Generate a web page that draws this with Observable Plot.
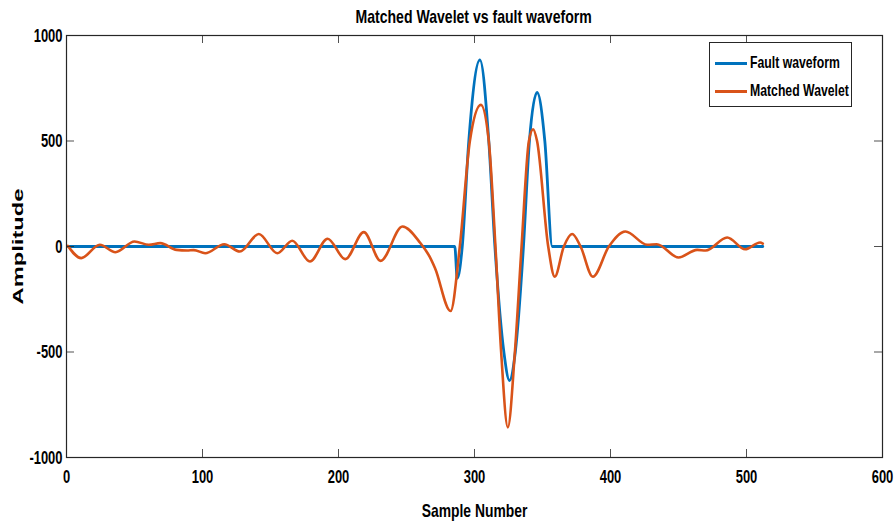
<!DOCTYPE html>
<html>
<head>
<meta charset="utf-8">
<script src="https://cdn.jsdelivr.net/npm/d3@7"></script>
<script src="https://cdn.jsdelivr.net/npm/@observablehq/plot@0.6"></script>
<style>
  body { margin: 0; background: #fff; }
  #wrap { position: relative; width: 896px; height: 524px; background: #fff; overflow: hidden; }
  #title { position: absolute; left: 66px; width: 816px; top: 6px; text-align: center; z-index: 2;
    font: bold 19px "Liberation Sans", Arial, sans-serif; color: #000; line-height: 22px; }
  #title span { display: inline-block; transform: scaleX(0.74); transform-origin: center; white-space: nowrap; }
  #chart { position: absolute; left: 0; top: 18px; z-index: 1; }
  #legend { position: absolute; left: 709px; top: 42px; width: 143px; height: 65px; box-sizing: border-box; z-index: 3;
    border: 1px solid #262626; background: #fff;
    font: bold 17px "Liberation Sans", Arial, sans-serif; color: #000; }
  .item { position: absolute; left: 5px; height: 20px; display: flex; align-items: center; white-space: nowrap; }
  .sw { width: 32px; height: 3px; margin-right: 3px; flex: none; }
  .tx { display: inline-block; transform: scaleX(0.72); transform-origin: left center; }
</style>
</head>
<body>
<div id="wrap">
  <div id="title"><span>Matched Wavelet vs fault waveform</span></div>
  <div id="chart"></div>
  <div id="legend"></div>
</div>
<script>
// ---- data ----
const xTicks = [0, 100, 200, 300, 400, 500, 600];
const yTicks = [-1000, -500, 0, 500, 1000];
const seriesNames = ["Fault waveform", "Matched Wavelet"];
const seriesColors = ["#0072BD", "#D95319"];

const faultSample = [1, 285.5, 287.3, 291, 295.8, 304, 310.5, 315, 321.6, 325.7, 330, 336, 340.4, 346, 351.7, 357.2, 512];
const faultAmp    = [0, 0, -151, 0, 500, 884, 500, 0, -500, -635, -500, 0, 500, 730, 500, 0, 0];

const waveletSample = [1, 10.8, 24.5, 36, 50, 60.5, 69, 81, 88.7, 93.6, 102, 116, 127.5, 141.4, 155, 166, 179, 192, 205, 218.6, 231, 247, 260, 267, 271, 282.4, 289.2, 296.6, 304.7, 310.5, 315.4, 319.6, 324.5, 329.7, 334.6, 340, 343.1, 346, 354.2, 359, 365.7, 371.8, 378, 387, 398.8, 411, 427, 434, 450, 463.7, 470, 485.8, 499, 510, 512];
const waveletAmp    = [3, -55, 8, -27, 24, 8, 16, -16, -19, -17, -32, 11, -24, 59, -32, 27, -71, 37, -60, 68, -68, 95, 18, -48, -103, -306, 0, 500, 671, 500, 0, -500, -857, -500, 0, 500, 556, 500, 0, -143, 0, 59, 0, -143, 0, 71, 8, 11, -52, -16, -19, 43, -13, 19, 14];

const fault = faultSample.map((x, i) => ({x, y: faultAmp[i]}));
const wavelet = waveletSample.map((x, i) => ({x, y: waveletAmp[i]}));

// ---- layout ----
const W = 896, H = 506, mt = 17, mb = 67, ml = 66, mr = 14;
const innerH = H - mt - mb, innerW = W - ml - mr, tick = 8;
const axisColor = "#262626";
const font = '"Liberation Sans", Arial, sans-serif';

const chart = Plot.plot({
  width: W, height: H,
  marginTop: mt, marginBottom: mb, marginLeft: ml, marginRight: mr,
  style: {fontFamily: font, fontWeight: "bold", fontSize: "19px", color: "#000", background: "transparent", overflow: "visible"},
  x: {domain: [0, 600]},
  y: {domain: [-1000, 1000]},
  marks: [
    Plot.axisX(xTicks, {tickSize: 0, tickPadding: 12, tickFormat: d => String(d),
      label: "Sample Number", labelAnchor: "center", labelOffset: 59, labelArrow: "none"}),
    Plot.axisY(yTicks, {tickSize: 0, tickPadding: 4, tickFormat: d => String(d),
      label: "Amplitude", labelAnchor: "center", labelOffset: 53, labelArrow: "none"}),
    Plot.line(fault, {x: "x", y: "y", stroke: seriesColors[0], strokeWidth: 2.8, curve: "monotone-x"}),
    Plot.line(wavelet, {x: "x", y: "y", stroke: seriesColors[1], strokeWidth: 2.6, curve: "monotone-x"}),
    Plot.tickX(xTicks, {x: d => d, insetTop: innerH - tick, stroke: axisColor, strokeOpacity: 0.8}),
    Plot.tickX(xTicks, {x: d => d, insetBottom: innerH - tick, stroke: axisColor, strokeOpacity: 0.8}),
    Plot.tickY(yTicks, {y: d => d, insetRight: innerW - tick, stroke: axisColor, strokeOpacity: 0.8}),
    Plot.tickY(yTicks, {y: d => d, insetLeft: innerW - tick, stroke: axisColor, strokeOpacity: 0.8}),
    Plot.frame({stroke: axisColor, strokeWidth: 1.2})
  ]
});
document.getElementById("chart").appendChild(chart);

// condense horizontal text like the reference
function condense(sel, f) {
  chart.querySelectorAll(sel).forEach(t => {
    const len = t.getComputedTextLength();
    if (len > 0) {
      t.setAttribute("textLength", (len * f).toFixed(1));
      t.setAttribute("lengthAdjust", "spacingAndGlyphs");
    }
  });
}
condense('[aria-label="x-axis tick label"] text', 0.68);
condense('[aria-label="y-axis tick label"] text', 0.68);
condense('[aria-label="x-axis label"] text', 0.73);

// y label: wide bold, stretched like the reference
const ylab = chart.querySelector('[aria-label="y-axis label"] text');
if (ylab) {
  ylab.style.fontSize = "14px";
  ylab.setAttribute("textLength", "116");
  ylab.setAttribute("lengthAdjust", "spacingAndGlyphs");
}

// legend
const legend = document.getElementById("legend");
seriesNames.forEach((name, i) => {
  const item = document.createElement("div");
  item.className = "item";
  item.style.top = (i === 0 ? 10 : 38) + "px";
  const sw = document.createElement("span");
  sw.className = "sw";
  sw.style.background = seriesColors[i];
  const tx = document.createElement("span");
  tx.className = "tx";
  tx.textContent = name;
  item.appendChild(sw); item.appendChild(tx);
  legend.appendChild(item);
});
</script>
</body>
</html>
